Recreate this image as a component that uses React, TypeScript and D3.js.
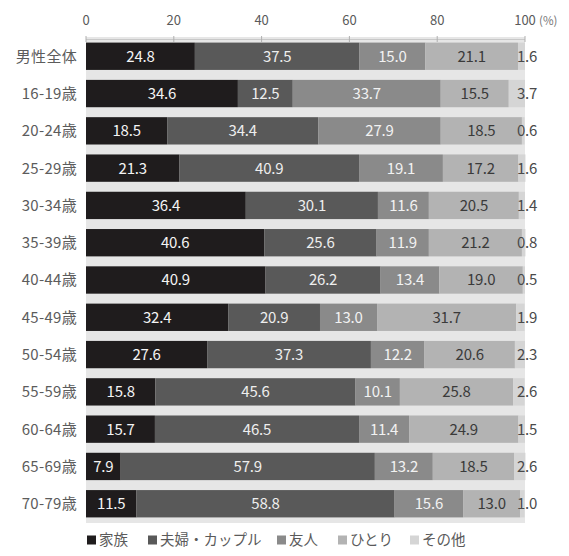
import React from "react";
import * as d3 from "d3";

// Share (%) of who respondents spend time with, by age group
const categories = [
  "男性全体", "16-19歳", "20-24歳", "25-29歳", "30-34歳", "35-39歳", "40-44歳",
  "45-49歳", "50-54歳", "55-59歳", "60-64歳", "65-69歳", "70-79歳",
];
const seriesNames = ["家族", "夫婦・カップル", "友人", "ひとり", "その他"];
const family = [24.8, 34.6, 18.5, 21.3, 36.4, 40.6, 40.9, 32.4, 27.6, 15.8, 15.7, 7.9, 11.5];
const couple = [37.5, 12.5, 34.4, 40.9, 30.1, 25.6, 26.2, 20.9, 37.3, 45.6, 46.5, 57.9, 58.8];
const friends = [15.0, 33.7, 27.9, 19.1, 11.6, 11.9, 13.4, 13.0, 12.2, 10.1, 11.4, 13.2, 15.6];
const alone = [21.1, 15.5, 18.5, 17.2, 20.5, 21.2, 19.0, 31.7, 20.6, 25.8, 24.9, 18.5, 13.0];
const other = [1.6, 3.7, 0.6, 1.6, 1.4, 0.8, 0.5, 1.9, 2.3, 2.6, 1.5, 2.6, 1.0];
const tickValues = [0, 20, 40, 60, 80, 100];

const seriesValues = [family, couple, friends, alone, other];
const colors = ["#1f1c1d", "#595959", "#8a8a8a", "#b3b3b3", "#d5d5d5"];
const labelColors = ["#f4f4f4", "#eeeeee", "#f2f2f2", "#3a3a3a", "#4a4a4a"];

const W = 569;
const H = 556;
const FONT = "'Noto Sans CJK JP', 'Noto Sans', sans-serif";

export default function App() {
  const x = d3.scaleLinear().domain([0, 100]).range([86, 525]);
  const y = d3
    .scaleBand<string>()
    .domain(categories)
    .range([37, 523])
    .paddingInner(0.267)
    .paddingOuter(0.15);

  const rows = categories.map((c, i) => {
    const vals = seriesValues.map((s) => s[i]);
    const starts = vals.map((_, k) => d3.sum(vals.slice(0, k)));
    return { c, vals, starts };
  });

  const legendX = [87, 148, 277, 338, 410];

  return (
    <svg
      width={W}
      height={H}
      style={{ position: "absolute", left: 0, top: 0, background: "#fff" }}
      fontFamily={FONT}
    >
      {/* plot background */}
      <rect x={x(0)} y={37} width={x(100) - x(0)} height={486} fill="#e6e6e6" />
      <line x1={x(0)} x2={x(100)} y1={39.5} y2={39.5} stroke="#c8c8c8" strokeWidth={1} />
      {tickValues.map((t) => (
        <g key={t}>
          <line x1={x(t)} x2={x(t)} y1={36} y2={42} stroke="#b0b0b0" strokeWidth={1} />
          <text x={x(t)} y={25} textAnchor="middle" fontSize={13} fill="#5a5a5a">
            {t}
          </text>
        </g>
      ))}
      <text x={x(100) + 14} y={25} fontSize={11.5} fill="#777">
        (%)
      </text>

      {rows.map((r) => {
        const y0 = y(r.c)!;
        const bh = y.bandwidth();
        const cy = y0 + bh / 2;
        return (
          <g key={r.c}>
            <text
              x={77}
              y={cy}
              dy="0.36em"
              textAnchor="end"
              fontSize={15}
              fill="#5c5c5c"
              letterSpacing={0.3}
            >
              {r.c}
            </text>
            {r.vals.map((v, k) => (
              <rect
                key={k}
                x={x(r.starts[k])}
                y={y0}
                width={x(r.starts[k] + v) - x(r.starts[k])}
                height={bh}
                fill={colors[k]}
              />
            ))}
            {r.vals.map((v, k) => {
              const inside = k < 4;
              const tx = inside ? x(r.starts[k] + v / 2) : x(100) + 2;
              return (
                <text
                  key={"t" + k}
                  x={tx}
                  y={cy}
                  dy="0.36em"
                  textAnchor="middle"
                  fontSize={15}
                  fill={labelColors[k]}
                  letterSpacing={-0.2}
                >
                  {v.toFixed(1)}
                </text>
              );
            })}
          </g>
        );
      })}

      {/* legend */}
      {seriesNames.map((n, k) => (
        <g key={n} transform={`translate(${legendX[k]},540)`}>
          <rect x={0} y={-4.5} width={9} height={9} fill={colors[k]} />
          <text x={12} y={0} dy="0.36em" fontSize={14.5} fill="#5a5a5a">
            {n}
          </text>
        </g>
      ))}
    </svg>
  );
}
